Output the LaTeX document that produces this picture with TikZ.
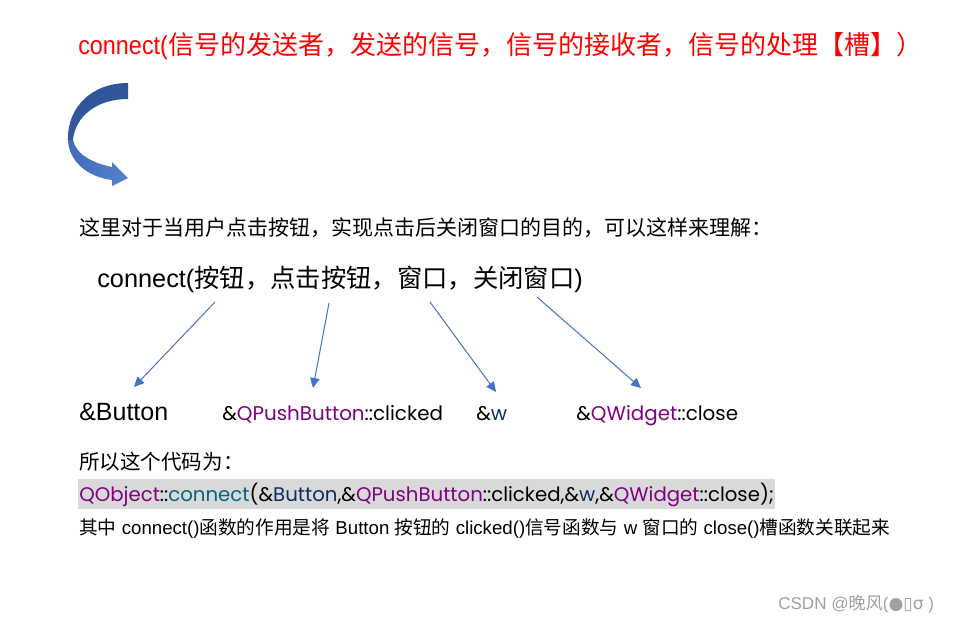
\documentclass[tikz,border=0pt]{standalone}
\usepackage{fontspec}
\setmainfont{Liberation Sans}
\newfontfamily\cjk{Noto Sans CJK SC}
\newfontfamily\narrow[FakeStretch=0.9]{Liberation Sans}
\newfontfamily\geo{Poppins}
\newfontfamily\sym{DejaVu Sans}
\usepackage{xcolor}
\usetikzlibrary{arrows.meta, positioning}

\definecolor{qpurple}{RGB}{128,0,128}
\definecolor{qteal}{RGB}{0,103,124}
\definecolor{qblue}{RGB}{9,46,100}
\definecolor{codegray}{RGB}{217,217,217}
\definecolor{arrowblue}{RGB}{68,114,196}
\definecolor{darkblue}{RGB}{47,85,151}
\definecolor{markgray}{RGB}{160,160,160}

\newcommand{\pt}[1]{\fontsize{#1}{#1}\selectfont}
\newcommand{\cls}[1]{\textcolor{qpurple}{#1}}
\newcommand{\var}[1]{\textcolor{qblue}{#1}}

\begin{document}
\begin{tikzpicture}[x=0.75pt,y=-0.75pt,
    txt/.style={inner sep=0pt,anchor=base west},
    arr/.style={color=arrowblue,line width=0.75pt,-{Triangle[length=7.5pt,width=7pt]}}]
  \useasboundingbox (0,0) rectangle (959,622);

  % curved block arrow
  \shade[top color=darkblue,bottom color=darkblue!85!arrowblue]
    (128,83) .. controls (92,83) and (67,107) .. (68,140)
    -- (73,140) .. controls (75,117) and (96,99) .. (128,99) -- cycle;
  \shade[left color=arrowblue!95!black,right color=arrowblue!90!white]
    (68,140) .. controls (69,162) and (88,177) .. (112,180)
    -- (112,186) -- (128,178) -- (112,162) -- (112,167)
    .. controls (92,163) and (76,154) .. (73,140) -- cycle;

  \node[txt,text=red,font=\pt{19.5}] (title) at (78,54)
    {\narrow connect(\cjk 信号的发送者，发送的信号，信号的接收者，信号的处理【槽】）};
  \node[txt,font=\pt{15.75}] (intro) at (79,235)
    {\cjk 这里对于当用户点击按钮，实现点击后关闭窗口的目的，可以这样来理解：};
  \node[txt,font=\pt{19}] (call) at (97,287)
    {connect(\cjk 按钮，点击按钮，窗口，关闭窗口\rmfamily)};

  \node[txt,font=\pt{18.75}] (btn) at (79,420) {\&Button};
  \node[txt,font=\geo\pt{14.9}] (sig) at (222,420) {\&\cls{QPushButton}::clicked};
  \node[txt,font=\geo\pt{14.9}] (win) at (476,420) {\&\var{w}};
  \node[txt,font=\geo\pt{14.9}] (slot) at (576,420) {\&\cls{QWidget}::close};

  \coordinate (s1) at (215,302); \coordinate (t1) at (134,387);
  \coordinate (s2) at (329,303); \coordinate (t2) at (313,388);
  \coordinate (s3) at (430,302); \coordinate (t3) at (496,392);
  \coordinate (s4) at (537,297); \coordinate (t4) at (641,388);
  \draw[arr] (s1) -- (t1);
  \draw[arr] (s2) -- (t2);
  \draw[arr] (s3) -- (t3);
  \draw[arr] (s4) -- (t4);

  \node[txt,font=\pt{15.4}] (so) at (79,469) {\cjk 所以这个代码为：};
  \node[txt,font=\geo\pt{14.8},fill=codegray,inner xsep=0.75pt,
        text height=16.5pt,text depth=6pt] (code) at (78,501)
    {\cls{QObject}::\textcolor{qteal}{connect}(\&\var{Button},\&\cls{QPushButton}::clicked,\&\var{w},\&\cls{QWidget}::close);};
  \node[txt,font=\pt{14}] (note) at (79,534)
    {\cjk 其中\rmfamily{} connect()\cjk 函数的作用是将\rmfamily{} Button \cjk 按钮的\rmfamily{} clicked()\cjk 信号函数与\rmfamily{} w \cjk 窗口的\rmfamily{} close()\cjk 槽函数关联起来};

  \node[txt,text=markgray,font=\pt{12.8}] (mark) at (778,609)
    {CSDN @\cjk 晚风\rmfamily(\sym ●▯σ\rmfamily{} )};
\end{tikzpicture}
\end{document}
